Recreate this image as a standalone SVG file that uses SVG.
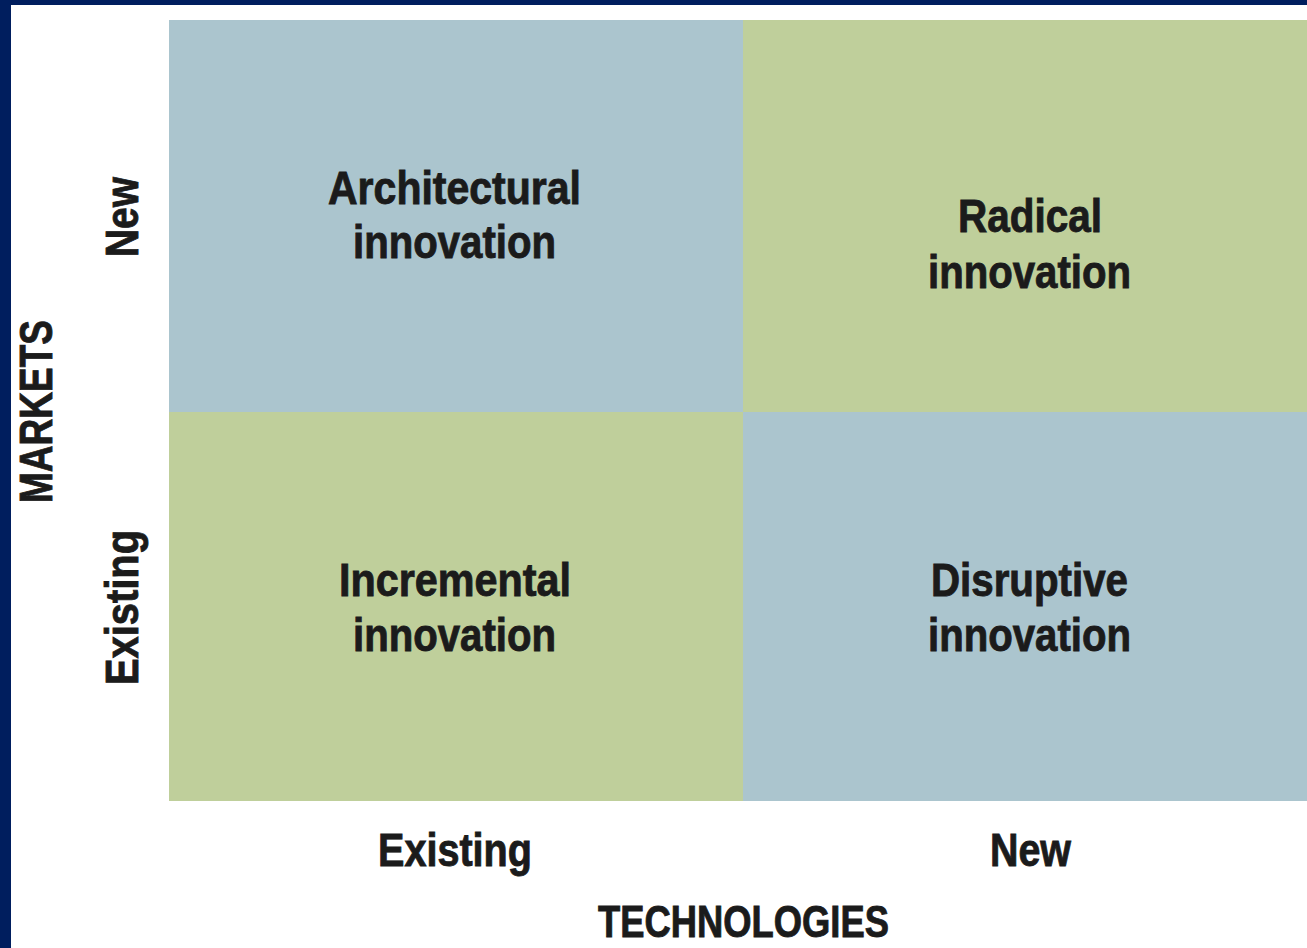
<svg xmlns="http://www.w3.org/2000/svg" width="1307" height="948" viewBox="0 0 1307 948">
<style>
.t{font-family:"Liberation Sans",Arial,sans-serif;font-weight:bold;font-size:46px;fill:#1b1b1b;stroke:#1b1b1b;stroke-width:0.9px}
.blue{fill:#abc5ce}
.green{fill:#bfcf9b}
</style>
<rect x="0" y="0" width="1307" height="948" fill="#ffffff"/>
<rect x="0" y="0" width="1307" height="5" fill="#001e5e"/>
<rect x="0" y="0" width="11" height="948" fill="#001e5e"/>
<g id="architectural">
<rect class="blue" x="169" y="20" width="574" height="392"/>
<text class="t" x="328" y="204" textLength="253" lengthAdjust="spacingAndGlyphs">Architectural</text>
<text class="t" x="353" y="258" textLength="203" lengthAdjust="spacingAndGlyphs">innovation</text>
</g>
<g id="radical">
<rect class="green" x="743" y="20" width="564" height="392"/>
<text class="t" x="958" y="232" textLength="144" lengthAdjust="spacingAndGlyphs">Radical</text>
<text class="t" x="928" y="288" textLength="203" lengthAdjust="spacingAndGlyphs">innovation</text>
</g>
<g id="incremental">
<rect class="green" x="169" y="412" width="574" height="389"/>
<text class="t" x="339" y="596" textLength="232" lengthAdjust="spacingAndGlyphs">Incremental</text>
<text class="t" x="353" y="651" textLength="203" lengthAdjust="spacingAndGlyphs">innovation</text>
</g>
<g id="disruptive">
<rect class="blue" x="743" y="412" width="564" height="389"/>
<text class="t" x="931" y="596" textLength="197" lengthAdjust="spacingAndGlyphs">Disruptive</text>
<text class="t" x="928" y="651" textLength="203" lengthAdjust="spacingAndGlyphs">innovation</text>
</g>
<g id="axis-labels">
<text class="t" x="378" y="866" textLength="154" lengthAdjust="spacingAndGlyphs">Existing</text>
<text class="t" x="990" y="866" textLength="81" lengthAdjust="spacingAndGlyphs">New</text>
<text class="t" x="598" y="937" font-size="44" style="font-size:44px" textLength="291" lengthAdjust="spacingAndGlyphs">TECHNOLOGIES</text>
<text class="t" transform="translate(138,257) rotate(-90)" x="0" y="0" textLength="80" lengthAdjust="spacingAndGlyphs">New</text>
<text class="t" transform="translate(138,685) rotate(-90)" x="0" y="0" textLength="155" lengthAdjust="spacingAndGlyphs">Existing</text>
<text class="t" transform="translate(52,503) rotate(-90)" x="0" y="0" textLength="183" lengthAdjust="spacingAndGlyphs">MARKETS</text>
</g>
</svg>
